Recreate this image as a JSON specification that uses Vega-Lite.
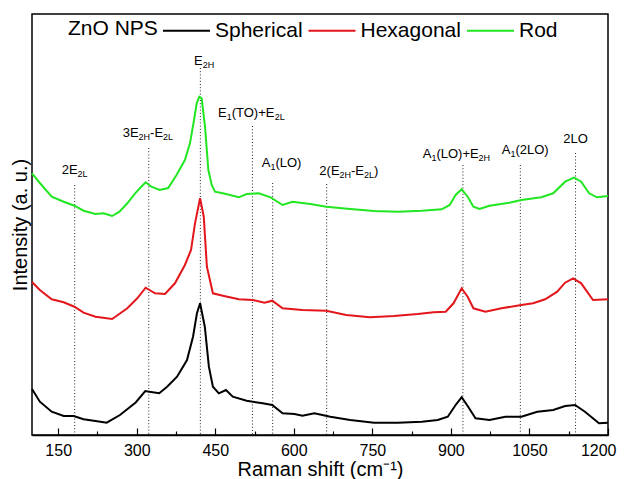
{
  "$schema": "https://vega.github.io/schema/vega-lite/v6.json",
  "width": 576,
  "height": 421,
  "autosize": {"type": "none"},
  "padding": {"left": 32, "top": 14, "right": 16, "bottom": 44},
  "config": {
    "font": "Liberation Sans",
    "view": {"stroke": "black", "strokeWidth": 1.5},
    "background": "white"
  },
  "datasets": {
    "spectra": [
      {"x":100,"y":261.7,"s":"Rod"},{"x":115,"y":252,"s":"Rod"},{"x":137.6,"y":238.3,"s":"Rod"},{"x":160.5,"y":233.3,"s":"Rod"},{"x":181,"y":229.3,"s":"Rod"},{"x":198.5,"y":224.3,"s":"Rod"},{"x":221,"y":221,"s":"Rod"},{"x":236.5,"y":221.7,"s":"Rod"},{"x":253,"y":219,"s":"Rod"},{"x":267,"y":223.3,"s":"Rod"},{"x":282,"y":231.7,"s":"Rod"},{"x":297,"y":241.7,"s":"Rod"},{"x":306,"y":246.7,"s":"Rod"},{"x":317,"y":252.7,"s":"Rod"},{"x":328,"y":248.3,"s":"Rod"},{"x":344,"y":245,"s":"Rod"},{"x":360,"y":247,"s":"Rod"},{"x":376,"y":260,"s":"Rod"},{"x":392,"y":275,"s":"Rod"},{"x":401.7,"y":291.7,"s":"Rod"},{"x":409.4,"y":315,"s":"Rod"},{"x":414.5,"y":331.7,"s":"Rod"},{"x":419.5,"y":338.3,"s":"Rod"},{"x":424,"y":336.7,"s":"Rod"},{"x":430.4,"y":308.3,"s":"Rod"},{"x":436.8,"y":265,"s":"Rod"},{"x":443.2,"y":250,"s":"Rod"},{"x":449.4,"y":243.3,"s":"Rod"},{"x":464.5,"y":241.7,"s":"Rod"},{"x":495,"y":237.7,"s":"Rod"},{"x":510,"y":241,"s":"Rod"},{"x":533,"y":241.7,"s":"Rod"},{"x":555.7,"y":237.7,"s":"Rod"},{"x":578.5,"y":230,"s":"Rod"},{"x":597.5,"y":233.3,"s":"Rod"},{"x":631.7,"y":231,"s":"Rod"},{"x":662,"y":228.3,"s":"Rod"},{"x":707.7,"y":226,"s":"Rod"},{"x":753,"y":224,"s":"Rod"},{"x":799,"y":223.3,"s":"Rod"},{"x":844.5,"y":224.3,"s":"Rod"},{"x":882.5,"y":225.7,"s":"Rod"},{"x":897.7,"y":230,"s":"Rod"},{"x":909,"y":240,"s":"Rod"},{"x":920.5,"y":245.7,"s":"Rod"},{"x":932,"y":238.3,"s":"Rod"},{"x":943,"y":228.3,"s":"Rod"},{"x":954.6,"y":226,"s":"Rod"},{"x":973.7,"y":229.3,"s":"Rod"},{"x":1011.6,"y":232.3,"s":"Rod"},{"x":1034.5,"y":235,"s":"Rod"},{"x":1072.6,"y":237.7,"s":"Rod"},{"x":1095.4,"y":241.7,"s":"Rod"},{"x":1118.2,"y":253.3,"s":"Rod"},{"x":1135,"y":257.3,"s":"Rod"},{"x":1148.8,"y":253.3,"s":"Rod"},{"x":1164,"y":241.7,"s":"Rod"},{"x":1179,"y":237.7,"s":"Rod"},{"x":1200,"y":239,"s":"Rod"},
      {"x":100,"y":153,"s":"Hexagonal"},{"x":115,"y":145,"s":"Hexagonal"},{"x":137.6,"y":135.7,"s":"Hexagonal"},{"x":160.5,"y":132.7,"s":"Hexagonal"},{"x":181,"y":128.3,"s":"Hexagonal"},{"x":198.5,"y":122.3,"s":"Hexagonal"},{"x":221.3,"y":118.3,"s":"Hexagonal"},{"x":253,"y":116,"s":"Hexagonal"},{"x":282,"y":126.7,"s":"Hexagonal"},{"x":301,"y":136.7,"s":"Hexagonal"},{"x":317,"y":147.3,"s":"Hexagonal"},{"x":335,"y":141.7,"s":"Hexagonal"},{"x":354,"y":141,"s":"Hexagonal"},{"x":373,"y":151.7,"s":"Hexagonal"},{"x":392,"y":170,"s":"Hexagonal"},{"x":403.7,"y":185,"s":"Hexagonal"},{"x":411.3,"y":211.7,"s":"Hexagonal"},{"x":421,"y":236.7,"s":"Hexagonal"},{"x":428,"y":218.3,"s":"Hexagonal"},{"x":434,"y":168.3,"s":"Hexagonal"},{"x":445.5,"y":141.7,"s":"Hexagonal"},{"x":464.5,"y":139.3,"s":"Hexagonal"},{"x":495,"y":135.7,"s":"Hexagonal"},{"x":521.5,"y":135,"s":"Hexagonal"},{"x":544.2,"y":132.3,"s":"Hexagonal"},{"x":558.8,"y":134.3,"s":"Hexagonal"},{"x":578.5,"y":126.7,"s":"Hexagonal"},{"x":616.4,"y":125,"s":"Hexagonal"},{"x":662,"y":124.3,"s":"Hexagonal"},{"x":700,"y":120,"s":"Hexagonal"},{"x":745.5,"y":117.7,"s":"Hexagonal"},{"x":791,"y":119,"s":"Hexagonal"},{"x":836.8,"y":121,"s":"Hexagonal"},{"x":867,"y":122.7,"s":"Hexagonal"},{"x":890,"y":123.3,"s":"Hexagonal"},{"x":905,"y":131.7,"s":"Hexagonal"},{"x":920.5,"y":146.7,"s":"Hexagonal"},{"x":932,"y":138.3,"s":"Hexagonal"},{"x":943,"y":126.7,"s":"Hexagonal"},{"x":966,"y":123.3,"s":"Hexagonal"},{"x":996.5,"y":126.7,"s":"Hexagonal"},{"x":1034.5,"y":130,"s":"Hexagonal"},{"x":1057,"y":131.7,"s":"Hexagonal"},{"x":1080,"y":135.7,"s":"Hexagonal"},{"x":1103,"y":143.3,"s":"Hexagonal"},{"x":1118,"y":152.3,"s":"Hexagonal"},{"x":1133.5,"y":156.7,"s":"Hexagonal"},{"x":1148.8,"y":151.7,"s":"Hexagonal"},{"x":1171.3,"y":135,"s":"Hexagonal"},{"x":1200,"y":135.7,"s":"Hexagonal"},
      {"x":100,"y":46,"s":"Spherical"},{"x":115,"y":33.3,"s":"Spherical"},{"x":137.6,"y":23.3,"s":"Spherical"},{"x":160.5,"y":19,"s":"Spherical"},{"x":179.6,"y":19,"s":"Spherical"},{"x":198.5,"y":15.7,"s":"Spherical"},{"x":221.3,"y":14,"s":"Spherical"},{"x":242.6,"y":12.3,"s":"Spherical"},{"x":268,"y":20,"s":"Spherical"},{"x":298,"y":32.5,"s":"Spherical"},{"x":316.3,"y":44,"s":"Spherical"},{"x":324,"y":43.3,"s":"Spherical"},{"x":343,"y":41.7,"s":"Spherical"},{"x":358,"y":48.3,"s":"Spherical"},{"x":377,"y":58.3,"s":"Spherical"},{"x":396,"y":75,"s":"Spherical"},{"x":407.5,"y":98.3,"s":"Spherical"},{"x":415,"y":121.7,"s":"Spherical"},{"x":421,"y":131.7,"s":"Spherical"},{"x":430,"y":108.3,"s":"Spherical"},{"x":437.8,"y":68.3,"s":"Spherical"},{"x":445.5,"y":48.3,"s":"Spherical"},{"x":456.8,"y":41.7,"s":"Spherical"},{"x":470.4,"y":45,"s":"Spherical"},{"x":483.4,"y":38.3,"s":"Spherical"},{"x":510,"y":34.3,"s":"Spherical"},{"x":540.4,"y":31.7,"s":"Spherical"},{"x":558.8,"y":30,"s":"Spherical"},{"x":578.5,"y":21.7,"s":"Spherical"},{"x":601.3,"y":21,"s":"Spherical"},{"x":616.4,"y":19.3,"s":"Spherical"},{"x":639.3,"y":21.7,"s":"Spherical"},{"x":669.7,"y":18.3,"s":"Spherical"},{"x":707.7,"y":15,"s":"Spherical"},{"x":753.3,"y":12.3,"s":"Spherical"},{"x":799,"y":12.3,"s":"Spherical"},{"x":844.5,"y":13.3,"s":"Spherical"},{"x":874.8,"y":15,"s":"Spherical"},{"x":894,"y":18.3,"s":"Spherical"},{"x":909,"y":30,"s":"Spherical"},{"x":920.5,"y":37.7,"s":"Spherical"},{"x":932,"y":29,"s":"Spherical"},{"x":947,"y":16.7,"s":"Spherical"},{"x":973.7,"y":15,"s":"Spherical"},{"x":1004,"y":18.3,"s":"Spherical"},{"x":1034.5,"y":18.3,"s":"Spherical"},{"x":1065,"y":23.3,"s":"Spherical"},{"x":1095.4,"y":25,"s":"Spherical"},{"x":1118.2,"y":29,"s":"Spherical"},{"x":1137,"y":30,"s":"Spherical"},{"x":1156,"y":23.3,"s":"Spherical"},{"x":1182.8,"y":11.7,"s":"Spherical"},{"x":1200,"y":12.3,"s":"Spherical"}
    ],
    "modes": [
      {"x":181.5,"top":250},{"x":323,"top":287},{"x":421.5,"top":367},{"x":521,"top":309},{"x":559.6,"top":252},{"x":662.8,"top":251},{"x":923,"top":270},{"x":1032.6,"top":270},{"x":1138,"top":282}
    ],
    "labels": [
      {"x":156.7,"y":261,"t":"2E","k":"n"},{"x":187.1,"y":261,"t":"2L","k":"s"},
      {"x":273.2,"y":298,"t":"3E","k":"n"},{"x":303.6,"y":298,"t":"2H","k":"s"},{"x":325.5,"y":298,"t":"-E","k":"n"},{"x":350.4,"y":298,"t":"2L","k":"s"},
      {"x":409.4,"y":370,"t":"E","k":"n"},{"x":426,"y":370,"t":"2H","k":"s"},
      {"x":455.2,"y":318,"t":"E","k":"n"},{"x":471.8,"y":318,"t":"1","k":"s"},{"x":481.4,"y":318,"t":"(TO)+E","k":"n"},{"x":563.5,"y":318,"t":"2L","k":"s"},
      {"x":538.7,"y":268,"t":"A","k":"n"},{"x":555.3,"y":268,"t":"1","k":"s"},{"x":564.8,"y":268,"t":"(LO)","k":"n"},
      {"x":648.7,"y":260,"t":"2(E","k":"n"},{"x":687.3,"y":260,"t":"2H","k":"s"},{"x":709.2,"y":260,"t":"-E","k":"n"},{"x":734.1,"y":260,"t":"2L","k":"s"},{"x":753.2,"y":260,"t":")","k":"n"},
      {"x":846.2,"y":277,"t":"A","k":"n"},{"x":862.8,"y":277,"t":"1","k":"s"},{"x":872.3,"y":277,"t":"(LO)+E","k":"n"},{"x":952.9,"y":277,"t":"2H","k":"s"},
      {"x":997,"y":281,"t":"A","k":"n"},{"x":1013.6,"y":281,"t":"1","k":"s"},{"x":1023.2,"y":281,"t":"(2LO)","k":"n"},
      {"x":1114.7,"y":292,"t":"2LO","k":"n"}
    ]
  },
  "layer": [
    {
      "data": {"name": "modes"},
      "mark": {"type": "rule", "color": "#222222", "strokeWidth": 1, "strokeDash": [1, 2.2]},
      "encoding": {
        "x": {"field": "x", "type": "quantitative"},
        "y": {"field": "top", "type": "quantitative"},
        "y2": {"datum": 0}
      }
    },
    {
      "data": {"name": "spectra"},
      "mark": {"type": "line", "strokeWidth": 2},
      "encoding": {
        "x": {
          "field": "x", "type": "quantitative",
          "scale": {"domain": [100, 1200], "nice": false, "zero": false},
          "axis": {
            "title": "Raman shift (cm⁻¹)",
            "values": [150,225,300,375,450,525,600,675,750,825,900,975,1050,1125,1200],
            "labelExpr": "datum.value % 150 === 0 ? datum.label : ''",
            "format": "d",
            "grid": false,
            "domainColor": "black", "domainWidth": 1.5,
            "tickColor": "black", "tickWidth": 1.2,
            "tickSize": {"condition": {"test": "datum.value % 150 === 0", "value": -7}, "value": -4},
            "labelFontSize": 16, "labelColor": "black", "labelPadding": 14,
            "labelFlush": true, "labelFlushOffset": 8,
            "titleFontSize": 20, "titleFontWeight": "normal", "titleColor": "black", "titlePadding": 1
          }
        },
        "y": {
          "field": "y", "type": "quantitative",
          "scale": {"domain": [0, 421], "nice": false},
          "axis": {
            "title": "Intensity (a. u.)", "ticks": false, "labels": false, "domain": false, "grid": false,
            "titleFontSize": 20, "titleFontWeight": "normal", "titleColor": "black", "titlePadding": 2
          }
        },
        "color": {
          "field": "s", "type": "nominal",
          "scale": {"domain": ["Spherical", "Hexagonal", "Rod"], "range": ["#000000", "#e3161b", "#22e622"]},
          "legend": {
            "title": "ZnO NPS", "orient": "none", "legendX": 36, "legendY": -8,
            "direction": "horizontal", "titleOrient": "left",
            "symbolType": "stroke", "symbolSize": 2209, "symbolStrokeWidth": 2,
            "labelFontSize": 21, "titleFontSize": 21, "titleFontWeight": "normal",
            "labelColor": "black", "titleColor": "black",
            "labelOffset": 4, "columnPadding": 1.5, "titlePadding": 4, "padding": 0,
            "titleBaseline": "line-top", "titleLineHeight": 12.4, "titleAnchor": "middle"
          }
        }
      }
    },
    {
      "data": {"name": "labels"},
      "transform": [{"filter": "datum.k === 'n'"}],
      "mark": {"type": "text", "align": "left", "baseline": "alphabetic", "fontSize": 13, "color": "black"},
      "encoding": {
        "x": {"field": "x", "type": "quantitative"},
        "y": {"field": "y", "type": "quantitative"},
        "text": {"field": "t"}
      }
    },
    {
      "data": {"name": "labels"},
      "transform": [{"filter": "datum.k === 's'"}],
      "mark": {"type": "text", "align": "left", "baseline": "alphabetic", "fontSize": 9, "dy": 3, "color": "black"},
      "encoding": {
        "x": {"field": "x", "type": "quantitative"},
        "y": {"field": "y", "type": "quantitative"},
        "text": {"field": "t"}
      }
    }
  ]
}
